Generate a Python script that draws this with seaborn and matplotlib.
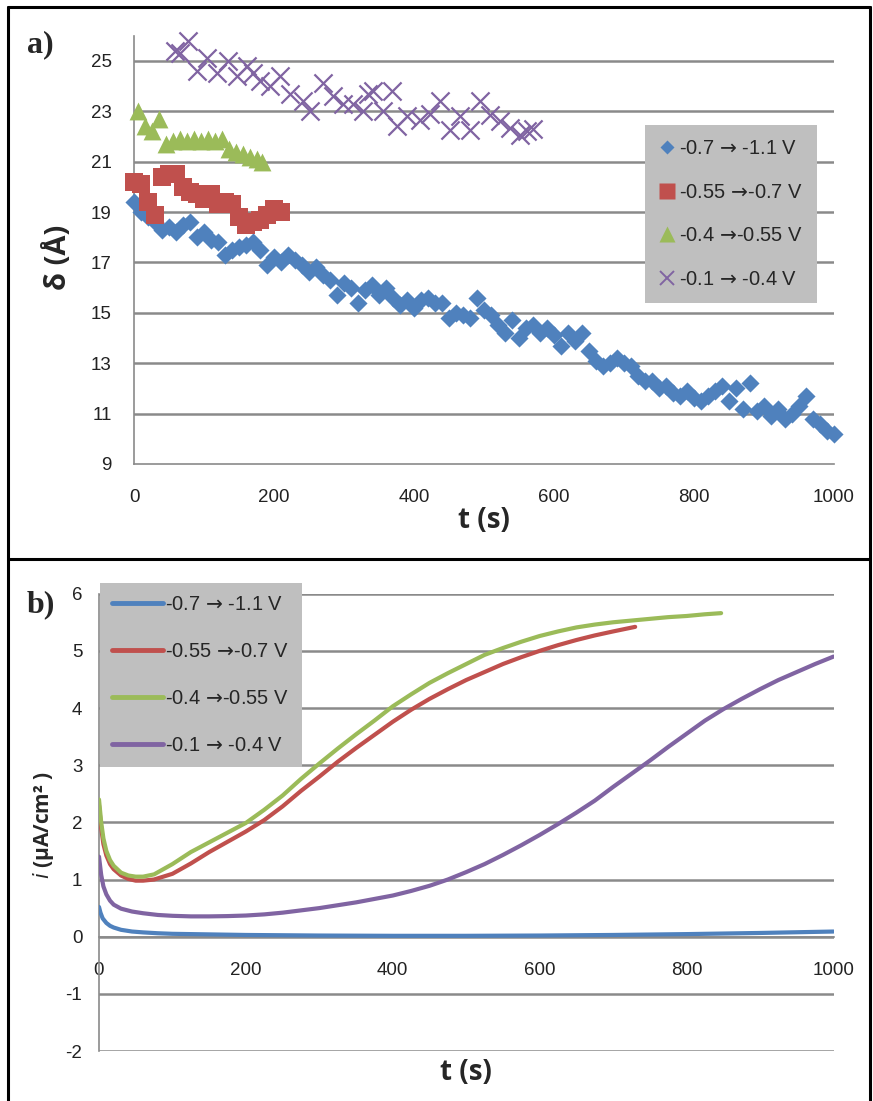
import numpy as np
import pandas as pd
import matplotlib
matplotlib.use("Agg")
import matplotlib.pyplot as plt
from matplotlib.lines import Line2D
import seaborn as sns

# ---------------- data ----------------
labels = ["-0.7 $\u2192$ -1.1 V", "-0.55 $\u2192$-0.7 V",
          "-0.4 $\u2192$-0.55 V", "-0.1 $\u2192$ -0.4 V"]
colors = ["#4F81BD", "#C0504D", "#9BBB59", "#8064A2"]

# panel a: thickness delta (Angstrom) vs t (s)
blue_t = list(range(0, 1001, 10))
blue_d = [19.4, 19.0, 18.8, 18.6, 18.3, 18.4, 18.2, 18.5, 18.6, 18.0,
          18.2, 17.9, 17.8, 17.3, 17.5, 17.6, 17.7, 17.8, 17.5, 16.9,
          17.2, 17.0, 17.3, 17.1, 16.9, 16.6, 16.8, 16.5, 16.3, 15.7,
          16.2, 16.0, 15.4, 15.9, 16.1, 15.7, 16.0, 15.6, 15.3, 15.5,
          15.2, 15.5, 15.6, 15.4, 15.4, 14.8, 15.0, 14.9, 14.8, 15.6,
          15.1, 14.9, 14.5, 14.2, 14.7, 14.0, 14.4, 14.5, 14.2, 14.4,
          14.1, 13.7, 14.2, 13.9, 14.2, 13.5, 13.1, 12.9, 13.0, 13.2,
          13.0, 12.9, 12.5, 12.3, 12.3, 12.0, 12.1, 11.8, 11.7, 11.9,
          11.6, 11.5, 11.7, 11.9, 12.1, 11.5, 12.0, 11.2, 12.2, 11.1,
          11.3, 10.9, 11.2, 10.8, 11.0, 11.3, 11.7, 10.8, 10.6, 10.3,
          10.2]
red_t = [0, 10, 20, 30, 40, 50, 60, 70, 80, 90, 100, 110, 120, 130, 140,
         150, 160, 170, 180, 190, 200, 210]
red_d = [20.2, 20.1, 19.4, 18.9, 20.4, 20.5, 20.5, 20.0, 19.8, 19.7, 19.5,
         19.7, 19.3, 19.4, 19.3, 18.8, 18.5, 18.6, 18.7, 18.9, 19.1, 19.0]
green_t = [5, 15, 25, 35, 45, 55, 65, 75, 85, 95, 105, 115, 125, 135, 145,
           155, 165, 175, 183]
green_d = [23.0, 22.4, 22.2, 22.7, 21.7, 21.8, 21.9, 21.8, 21.9, 21.8, 21.9,
           21.8, 21.9, 21.5, 21.4, 21.3, 21.2, 21.1, 21.0]
purple_t = [59, 66, 77, 90, 104, 118, 134, 147, 161, 170, 180, 194, 209, 223,
            242, 251, 270, 284, 299, 313, 327, 334, 342, 356, 368, 375, 390,
            409, 423, 437, 451, 466, 480, 494, 509, 523, 537, 551, 561, 570]
purple_d = [25.4, 25.3, 25.8, 24.6, 25.1, 24.5, 25.0, 24.4, 24.8, 24.5, 24.2,
            24.0, 24.4, 23.7, 23.4, 23.0, 24.1, 23.6, 23.3, 23.3, 23.0, 23.7,
            23.8, 23.0, 23.8, 22.4, 22.8, 22.65, 22.9, 23.4, 22.25, 22.8,
            22.25, 23.4, 22.85, 22.6, 22.35, 22.05, 22.2, 22.3]

# panel b: current density i (uA/cm2) vs t (s)
blue_lt = [0, 2, 5, 10, 15, 20, 30, 45, 60, 80, 100, 150, 200, 300, 400,
           500, 600, 700, 800, 900, 1000]
blue_i = [0.52, 0.42, 0.32, 0.24, 0.19, 0.16, 0.12, 0.09, 0.075, 0.06, 0.05,
          0.04, 0.03, 0.02, 0.015, 0.015, 0.02, 0.03, 0.045, 0.065, 0.09]
red_lt = [0, 3, 6, 10, 15, 20, 30, 40, 50, 60, 75, 100, 125, 150, 175, 200,
          225, 250, 275, 300, 325, 350, 375, 400, 425, 450, 475, 500, 525,
          550, 575, 600, 625, 650, 675, 700, 730]
red_i = [2.3, 1.9, 1.62, 1.42, 1.27, 1.18, 1.07, 1.01, 0.98, 0.98, 1.0, 1.1,
         1.28, 1.48, 1.66, 1.84, 2.04, 2.28, 2.55, 2.8, 3.06, 3.3, 3.53,
         3.76, 3.97, 4.16, 4.33, 4.49, 4.63, 4.77, 4.89, 5.0, 5.1, 5.19,
         5.27, 5.34, 5.42]
green_lt = [0, 3, 6, 10, 15, 20, 30, 40, 50, 60, 75, 100, 125, 150, 175, 200,
            225, 250, 275, 300, 325, 350, 375, 400, 425, 450, 475, 500, 525,
            550, 575, 600, 625, 650, 675, 700, 725, 750, 775, 800, 825, 847]
green_i = [2.4, 2.0, 1.72, 1.5, 1.34, 1.24, 1.12, 1.07, 1.05, 1.05, 1.09,
           1.27, 1.48, 1.65, 1.82, 1.99, 2.22, 2.47, 2.76, 3.03, 3.29, 3.54,
           3.78, 4.03, 4.24, 4.44, 4.61, 4.77, 4.93, 5.05, 5.16, 5.26, 5.34,
           5.41, 5.46, 5.5, 5.53, 5.56, 5.59, 5.61, 5.64, 5.66]
purple_lt = [0, 3, 6, 10, 15, 20, 30, 45, 60, 80, 100, 125, 150, 175, 200,
             225, 250, 275, 300, 325, 350, 375, 400, 425, 450, 475, 500, 525,
             550, 575, 600, 625, 650, 675, 700, 725, 750, 775, 800, 825, 850,
             875, 900, 925, 950, 975, 1000]
purple_i = [1.4, 1.08, 0.88, 0.74, 0.63, 0.56, 0.49, 0.44, 0.41, 0.38, 0.365,
            0.355, 0.355, 0.36, 0.37, 0.39, 0.42, 0.46, 0.5, 0.55, 0.6, 0.66,
            0.72, 0.8, 0.89, 1.0, 1.13, 1.27, 1.43, 1.6, 1.78, 1.97, 2.17,
            2.38, 2.62, 2.85, 3.08, 3.32, 3.55, 3.78, 3.98, 4.16, 4.33, 4.49,
            4.63, 4.77, 4.9]

a_xticks = [0, 200, 400, 600, 800, 1000]
a_yticks = [9, 11, 13, 15, 17, 19, 21, 23, 25]
b_xticks = [0, 200, 400, 600, 800, 1000]
b_yticks = [-2, -1, 0, 1, 2, 3, 4, 5, 6]

# ---------------- style ----------------
sns.set_style("white")
plt.rcParams["font.family"] = ["Liberation Sans", "DejaVu Sans"]
plt.rcParams["mathtext.fontset"] = "dejavusans"

GRID = "#8a8a8a"
SPINE = "#8a8a8a"
TICKSIZE = 13.5
LEGSIZE = 14.5

W, H = 873, 1101
fig = plt.figure(figsize=(W / 100, H / 100), dpi=100)


def fx(px):
    return px / W


def fy(py):
    return 1 - py / H


# ---------------- panel a ----------------
axa = fig.add_axes([fx(134), fy(464), fx(834) - fx(134), fy(35.6) - fy(464)])
dfa = pd.concat([
    pd.DataFrame({"t": blue_t, "d": blue_d, "s": labels[0]}),
    pd.DataFrame({"t": red_t, "d": red_d, "s": labels[1]}),
    pd.DataFrame({"t": green_t, "d": green_d, "s": labels[2]}),
    pd.DataFrame({"t": purple_t, "d": purple_d, "s": labels[3]}),
])
markers = ["D", "s", "^", "x"]
sizes = [85, 175, 165, 170]
for lab, col, mk, sz in zip(labels, colors, markers, sizes):
    sub = dfa[dfa["s"] == lab]
    if mk == "x":
        sns.scatterplot(data=sub, x="t", y="d", ax=axa, color=col, marker=mk,
                        s=sz, linewidth=1.6, clip_on=False, zorder=3, legend=False)
    else:
        sns.scatterplot(data=sub, x="t", y="d", ax=axa, color=col, marker=mk,
                        s=sz, linewidth=0, clip_on=False, zorder=3, legend=False)
axa.set_xlim(0, 1000)
axa.set_ylim(9, 26)
axa.set_xticks(a_xticks)
axa.set_yticks(a_yticks)
axa.set_xticklabels([str(v) for v in a_xticks])
axa.set_yticklabels([str(v) for v in a_yticks])
for y in a_yticks[1:]:
    axa.axhline(y, color=GRID, lw=1.8, zorder=1)
for side in ["top", "right"]:
    axa.spines[side].set_visible(False)
for side in ["left", "bottom"]:
    axa.spines[side].set_color(SPINE)
    axa.spines[side].set_linewidth(1.2)
axa.tick_params(axis="x", direction="out", length=6, width=1.2, color=SPINE,
                labelsize=TICKSIZE, labelcolor="#222222", pad=12)
axa.tick_params(axis="y", direction="out", length=6, width=1.2, color=SPINE,
                labelsize=TICKSIZE, labelcolor="#222222", pad=10)
axa.set_xlabel("t (s)", fontsize=20, fontweight="bold", family=["Open Sans", "DejaVu Sans"])
axa.xaxis.label.set_va("center")
axa.xaxis.set_label_coords(0.5, (464 - 521) / 428.4)
axa.set_ylabel("\u03b4 (\u00c5)", fontsize=21, fontweight="bold", family=["Open Sans", "DejaVu Sans"])
axa.yaxis.label.set_va("center")
axa.yaxis.label.set_ha("center")
axa.yaxis.set_label_coords((58 - 134) / 700, (464 - 257) / 428.4)

handles_a = []
for col, mk in zip(colors, markers):
    if mk == "x":
        handles_a.append(Line2D([], [], ls="none", marker="x", color=col, ms=10, mew=1.4))
    else:
        handles_a.append(Line2D([], [], ls="none", marker=mk, color=col, mec="none",
                                ms={"D": 7.5, "s": 11, "^": 11}[mk]))
lega = axa.legend(handles_a, labels, loc="upper left",
                  bbox_to_anchor=(fx(645), fy(125)), bbox_transform=fig.transFigure,
                  frameon=True, fancybox=False, labelspacing=1.22,
                  handlelength=0.8, handletextpad=0.2, borderpad=0.7,
                  borderaxespad=0, prop={"family": ["Liberation Sans", "DejaVu Sans"], "size": LEGSIZE})
lega.get_frame().set_facecolor("#BFBFBF")
lega.get_frame().set_edgecolor("none")
lega.get_frame().set_alpha(1)
lega.set_zorder(5)

# ---------------- panel b ----------------
axb = fig.add_axes([fx(99), fy(1051), fx(833.5) - fx(99), fy(593.7) - fy(1051)])
dfb = pd.concat([
    pd.DataFrame({"t": blue_lt, "i": blue_i, "s": labels[0]}),
    pd.DataFrame({"t": red_lt, "i": red_i, "s": labels[1]}),
    pd.DataFrame({"t": green_lt, "i": green_i, "s": labels[2]}),
    pd.DataFrame({"t": purple_lt, "i": purple_i, "s": labels[3]}),
])
for lab, col in zip(labels, colors):
    sub = dfb[dfb["s"] == lab]
    sns.lineplot(data=sub, x="t", y="i", ax=axb, color=col, lw=3.0,
                 solid_capstyle="round", solid_joinstyle="round", zorder=3,
                 legend=False, sort=True, estimator=None)
axb.set_xlim(0, 1000)
axb.set_ylim(-2, 6)
axb.set_xticks(b_xticks)
axb.set_yticks(b_yticks)
axb.set_xticklabels([str(v) for v in b_xticks])
axb.set_yticklabels([str(v) for v in b_yticks])
for y in b_yticks:
    if y != 0:
        axb.axhline(y, color=GRID, lw=1.8, zorder=1)
axb.axhline(0, color=SPINE, lw=1.8, zorder=2)
axb.spines["top"].set_visible(False)
axb.spines["right"].set_visible(False)
axb.spines["bottom"].set_position(("data", 0))
axb.spines["bottom"].set_color(SPINE)
axb.spines["bottom"].set_linewidth(1.2)
axb.spines["left"].set_color(SPINE)
axb.spines["left"].set_linewidth(1.2)
axb.tick_params(axis="y", direction="out", length=6, width=1.2, color=SPINE,
                labelsize=TICKSIZE, labelcolor="#222222", pad=6)
axb.tick_params(axis="x", direction="out", length=6, width=1.2, color=SPINE,
                labelsize=TICKSIZE, labelcolor="#222222", pad=12)
axb.set_xlabel("t (s)", fontsize=20, fontweight="bold", family=["Open Sans", "DejaVu Sans"])
axb.xaxis.label.set_va("center")
axb.xaxis.set_label_coords(0.5, (1051 - 1073) / 457.3)
axb.set_ylabel("$\\it{i}$ (\u03bcA/cm\u00b2 )", fontsize=15, fontweight="bold",
               family=["Open Sans", "DejaVu Sans"])
axb.yaxis.label.set_va("center")
axb.yaxis.label.set_ha("center")
axb.yaxis.set_label_coords((43 - 99) / 734.5, (1051 - 825) / 457.3)

handles_b = [Line2D([], [], color=c, lw=3.5, solid_capstyle="round") for c in colors]
legb = axb.legend(handles_b, labels, loc="upper left",
                  bbox_to_anchor=(fx(100), fy(583)), bbox_transform=fig.transFigure,
                  frameon=True, fancybox=False, labelspacing=1.38,
                  handlelength=2.5, handletextpad=0.12, borderpad=0.62,
                  borderaxespad=0, prop={"family": ["Liberation Sans", "DejaVu Sans"], "size": LEGSIZE})
legb.get_frame().set_facecolor("#BFBFBF")
legb.get_frame().set_edgecolor("none")
legb.get_frame().set_alpha(1)
legb.set_zorder(5)

# ---------------- panel tags & frame ----------------
fig.text(fx(27), fy(45), "a)", fontsize=23, fontweight="bold",
         family=["Liberation Serif", "DejaVu Serif"], va="center", ha="left")
fig.text(fx(27), fy(605), "b)", fontsize=23, fontweight="bold",
         family=["Liberation Serif", "DejaVu Serif"], va="center", ha="left")

frame_kw = dict(color="black", lw=2.2, transform=fig.transFigure, clip_on=False)
fig.add_artist(Line2D([fx(8), fx(870)], [fy(7), fy(7)], **frame_kw))
fig.add_artist(Line2D([fx(8), fx(8)], [fy(7), fy(1101)], **frame_kw))
fig.add_artist(Line2D([fx(870), fx(870)], [fy(7), fy(1101)], **frame_kw))
fig.add_artist(Line2D([fx(8), fx(870)], [fy(559), fy(559)], **frame_kw))

fig.savefig("out.png", dpi=100)
